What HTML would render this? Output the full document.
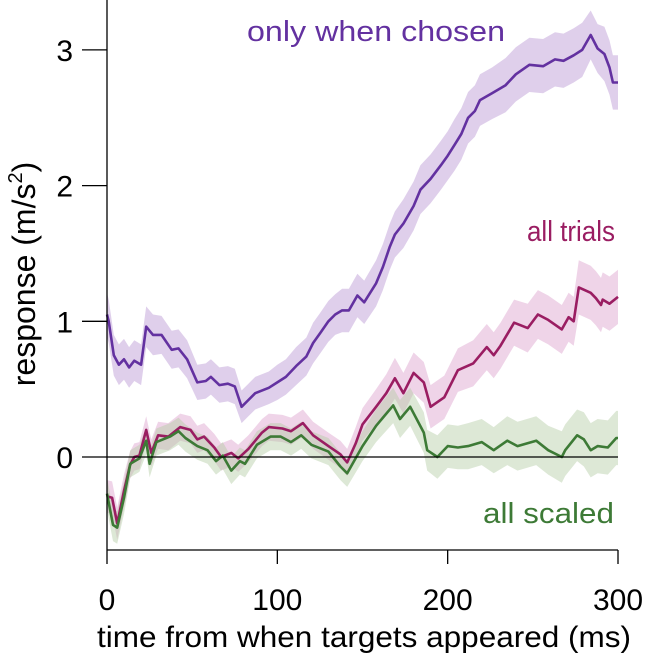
<!DOCTYPE html>
<html><head><meta charset="utf-8"><style>
html,body{margin:0;padding:0;background:#fff}
svg{display:block;font-family:"Liberation Sans",sans-serif}
</style></head><body>
<svg id="c" width="646" height="655"></svg>
<script>
const xTicks=[0,100,200,300];
const yTicks=[0,1,2,3];
const chosenT=[0,1,4,7,10,13,16,20,23,27,32,38,42,47,53,58,61,66,71,75,79,83,87,95,100,105,111,117,121,125,130,134,138,142,147,151,158,162,166,169,174,180,184,190,196,200,204,208,212,216,219,226,234,240,248,256,263,268,274,279,284,288,292,295,297,300];
const chosenV=[1.05,1.0,0.75,0.68,0.72,0.66,0.71,0.68,0.96,0.9,0.9,0.79,0.8,0.72,0.55,0.56,0.59,0.53,0.54,0.52,0.37,0.42,0.47,0.51,0.55,0.59,0.67,0.74,0.84,0.91,1.0,1.05,1.08,1.08,1.19,1.14,1.28,1.4,1.55,1.64,1.72,1.85,1.97,2.05,2.15,2.22,2.30,2.38,2.50,2.55,2.63,2.68,2.74,2.82,2.89,2.88,2.93,2.92,2.96,3.0,3.11,3.01,2.97,2.87,2.76,2.76];
const chosenE=[0.16,0.16,0.15,0.15,0.15,0.15,0.15,0.15,0.15,0.15,0.14,0.14,0.14,0.14,0.13,0.13,0.13,0.13,0.13,0.13,0.12,0.12,0.12,0.12,0.13,0.13,0.14,0.14,0.15,0.15,0.15,0.15,0.16,0.16,0.16,0.16,0.17,0.17,0.17,0.17,0.18,0.18,0.18,0.18,0.18,0.18,0.19,0.19,0.19,0.19,0.19,0.19,0.2,0.2,0.2,0.2,0.2,0.2,0.2,0.2,0.18,0.18,0.2,0.2,0.2,0.2];
const trialsT=[0,3,6,10,13.5,16,19,23,26,30,36,43,49,53,57,63,67,73,77,83,91,95,103,108,115,121,130,137,141,146,150,158,164,169,174,180,186,190,198,206,215,223,227,231,239,247,253,259,267,271,274,277,284,287,290,291,295,300];
const trialsV=[-0.29,-0.3,-0.49,-0.25,-0.06,0.0,0.01,0.2,0.03,0.16,0.15,0.22,0.2,0.13,0.15,0.07,0.0,0.03,-0.01,0.06,0.18,0.22,0.21,0.19,0.25,0.16,0.08,0.02,-0.04,0.1,0.24,0.37,0.47,0.58,0.47,0.62,0.55,0.37,0.44,0.64,0.69,0.81,0.75,0.82,0.99,0.95,1.05,1.01,0.94,1.03,1.0,1.25,1.21,1.17,1.12,1.16,1.13,1.18];
const trialsE=[0.12,0.12,0.12,0.12,0.1,0.1,0.1,0.1,0.1,0.1,0.1,0.1,0.1,0.1,0.1,0.1,0.1,0.1,0.1,0.1,0.1,0.1,0.1,0.1,0.1,0.1,0.1,0.1,0.1,0.12,0.12,0.13,0.14,0.15,0.15,0.15,0.15,0.16,0.16,0.16,0.17,0.17,0.17,0.17,0.17,0.18,0.18,0.18,0.18,0.18,0.18,0.2,0.2,0.2,0.2,0.2,0.2,0.2];
const scaledT=[0,3.5,6,10,13.7,19,23,25,29,37,42,46,53,59,64,68,73,78,81,88,96,102,108,114,120,130,137,141,150,158,168,172,178,186,188,194,200,206,212,220,227,235,241,252,259,267,269,276,280,284,288,294,299,300];
const scaledV=[-0.27,-0.5,-0.52,-0.3,-0.05,-0.01,0.12,-0.05,0.11,0.15,0.19,0.14,0.08,0.05,-0.03,0.01,-0.1,-0.03,-0.05,0.09,0.15,0.15,0.11,0.16,0.09,0.04,-0.07,-0.12,0.08,0.23,0.38,0.28,0.37,0.18,0.05,0.0,0.08,0.07,0.08,0.11,0.05,0.12,0.08,0.12,0.05,0.0,0.05,0.16,0.13,0.05,0.08,0.07,0.14,0.14];
const scaledE=[0.12,0.12,0.12,0.12,0.1,0.1,0.1,0.1,0.1,0.1,0.1,0.1,0.1,0.1,0.1,0.1,0.1,0.1,0.1,0.1,0.1,0.1,0.1,0.1,0.1,0.1,0.1,0.1,0.11,0.12,0.13,0.14,0.14,0.15,0.15,0.16,0.16,0.16,0.17,0.17,0.17,0.18,0.18,0.18,0.18,0.19,0.19,0.19,0.2,0.2,0.2,0.2,0.2,0.2];

const NS='http://www.w3.org/2000/svg';
const svg=document.getElementById('c');
const X0=107,X1=618,Y0=457,YS=135.7;
const xs=t=>X0+(X1-X0)*t/300;
const ys=v=>Y0-v*YS;
function mk(tag,attrs,parent){const e=document.createElementNS(NS,tag);for(const k in attrs)e.setAttribute(k,attrs[k]);(parent||svg).appendChild(e);return e;}

const bands=mk('g',{});


const lines=mk('g',{});


function series(T,V,E,line,fill,name){
  let up=T.map((t,i)=>xs(t).toFixed(1)+','+ys(V[i]+E[i]).toFixed(1));
  let dn=T.map((t,i)=>xs(t).toFixed(1)+','+ys(V[i]-E[i]).toFixed(1)).reverse();
  const b=mk('polygon',{points:up.concat(dn).join(' '),fill:fill,'fill-opacity':0.45},bands);
  
  
  const l=mk('polyline',{points:T.map((t,i)=>xs(t).toFixed(1)+','+ys(V[i]).toFixed(1)).join(' '),fill:'none',stroke:line,'stroke-width':2.6,'stroke-linejoin':'round'},lines);
  
  
}
series(chosenT,chosenV,chosenE,'#6331a0','#b894d2','only-when-chosen');
series(trialsT,trialsV,trialsE,'#9a1d62','#dca0cc','all-trials');
series(scaledT,scaledV,scaledE,'#3d7a36','#b4cca4','all-scaled');

const zl=mk('line',{x1:X0,x2:X1,y1:ys(0),y2:ys(0),stroke:'#000','stroke-width':1.2});


const ya=mk('line',{x1:X0,x2:X0,y1:0,y2:550,stroke:'#000','stroke-width':1.3});


const xa=mk('line',{x1:X0,x2:X1,y1:550,y2:550,stroke:'#000','stroke-width':1.3});


xTicks.forEach(t=>{
  const tk=mk('line',{x1:xs(t),x2:xs(t),y1:550,y2:564,stroke:'#000','stroke-width':1.3});
  
  
  const tx=mk('text',{x:xs(t),y:610,'font-size':30,'text-anchor':'middle',fill:'#000'});
  tx.textContent=t;
  
  
});
yTicks.forEach(v=>{
  const tk=mk('line',{x1:82,x2:X0,y1:ys(v),y2:ys(v),stroke:'#000','stroke-width':1.3});
  
  
  const tx=mk('text',{x:73,y:ys(v)+11,'font-size':30,'text-anchor':'end',fill:'#000'});
  tx.textContent=v;
  
  
});
</script>
<svg style="position:absolute;left:0;top:0" width="646" height="655">
<text x="97" y="647" font-size="30" textLength="534" lengthAdjust="spacingAndGlyphs" font-family="Liberation Sans">time from when targets appeared (ms)</text>
<text transform="translate(35,274) rotate(-90)" font-size="32" text-anchor="middle" font-family="Liberation Sans">response (m/s<tspan font-size="20" dy="-13">2</tspan><tspan dy="13">)</tspan></text>
<text x="247" y="41" font-size="29" textLength="258" lengthAdjust="spacingAndGlyphs" fill="#6331a0" font-family="Liberation Sans">only when chosen</text>
<text x="527" y="241" font-size="29" textLength="88" lengthAdjust="spacingAndGlyphs" fill="#9a1d62" font-family="Liberation Sans">all trials</text>
<text x="483" y="523" font-size="29" textLength="131" lengthAdjust="spacingAndGlyphs" fill="#3d7a36" font-family="Liberation Sans">all scaled</text>
</svg>
</body></html>
